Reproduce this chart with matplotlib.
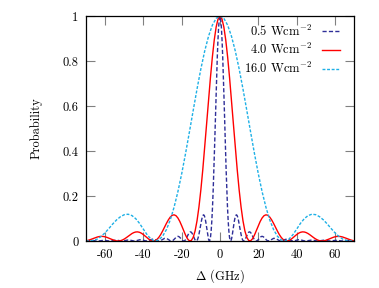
import numpy as np
import matplotlib
matplotlib.use("Agg")
import matplotlib.pyplot as plt

plt.rcParams.update({
    "font.family": "serif",
    "font.serif": ["cmr10", "DejaVu Serif"],
    "mathtext.fontset": "cm",
    "axes.unicode_minus": False,
    "font.size": 9,
})

# ---------------- data (half curves, detuning >= 0; the chart is symmetric) ----------------
# 0.5 W/cm^2
blue_x = [0.0, 0.356, 0.711, 1.067, 1.422, 1.778, 2.133, 2.489, 2.844, 3.2,
          3.556, 3.911, 4.267, 4.622, 4.978, 5.333, 5.689, 6.044, 6.4, 6.756,
          7.111, 7.467, 7.822, 8.178, 8.533, 8.889, 9.244, 9.6, 9.956, 10.311,
          10.667, 11.022, 11.378, 11.733, 12.089, 12.444, 12.8, 13.156, 13.511, 13.867,
          14.222, 14.578, 14.933, 15.289, 15.644, 16.0, 16.356, 16.711, 17.067, 17.422,
          17.778, 18.133, 18.489, 18.844, 19.2, 19.556, 19.911, 20.267, 20.622, 20.978,
          21.333, 21.689, 22.044, 22.4, 22.756, 23.111, 23.467, 23.822, 24.178, 24.533,
          24.889,
          26, 27, 28, 29, 30, 31, 32, 33, 34, 35, 36, 37, 38, 39, 40, 41, 42, 43, 44, 45,
          46, 47, 48, 49, 50, 51, 52, 53, 54, 55, 56, 57, 58, 59, 60, 61, 62, 63, 64, 65,
          66, 67, 68, 69, 70]
blue_p = [1.0, 0.9877, 0.9515, 0.8935, 0.8169, 0.7258, 0.6250, 0.5199, 0.4154, 0.3165,
          0.2274, 0.1511, 0.0900, 0.0450, 0.0161, 0.0021, 0.0009, 0.0100, 0.0263, 0.0465,
          0.0676, 0.0870, 0.1024, 0.1125, 0.1164, 0.1141, 0.1061, 0.0936, 0.0780, 0.0609,
          0.0439, 0.0284, 0.0157, 0.0066, 0.0014, 0.0000, 0.0022, 0.0070, 0.0137, 0.0211,
          0.0283, 0.0343, 0.0385, 0.0405, 0.0401, 0.0375, 0.0331, 0.0273, 0.0209, 0.0145,
          0.0088, 0.0043, 0.0013, 0.0001, 0.0005, 0.0023, 0.0053, 0.0088, 0.0126, 0.0159,
          0.0186, 0.0202, 0.0206, 0.0198, 0.0179, 0.0151, 0.0119, 0.0086, 0.0054, 0.0028,
          0.0010,
          0.0012, 0.0069, 0.0117, 0.0116, 0.0069, 0.0017, 0.0001, 0.0027, 0.0067, 0.0083,
          0.0063, 0.0025, 0.0001, 0.0008, 0.0036, 0.0057, 0.0054, 0.0030, 0.0006, 0.0001,
          0.0017, 0.0038, 0.0044, 0.0031, 0.0011, 0.0000, 0.0007, 0.0023, 0.0034, 0.0030,
          0.0015, 0.0002, 0.0002, 0.0013, 0.0025, 0.0027, 0.0017, 0.0005, 0.0000, 0.0006,
          0.0017, 0.0023, 0.0018, 0.0008, 0.0001]

# 4.0 W/cm^2
red_x = [0, 1, 2, 3, 4, 5, 6, 7, 8, 9, 10, 11, 12, 13, 14, 15, 16, 17, 18, 19,
         20, 21, 22, 23, 24, 25, 26, 27, 28, 29, 30, 31, 32, 33, 34, 35, 36, 37, 38, 39,
         40, 41, 42, 43, 44, 45, 46, 47, 48, 49, 50, 51, 52, 53, 54, 55, 56, 57, 58, 59,
         60, 61, 62, 63, 64, 65, 66, 67, 68, 69, 70]
red_p = [1.0, 0.9877, 0.9515, 0.8935, 0.8169, 0.7258, 0.6250, 0.5199, 0.4154, 0.3165,
         0.2274, 0.1511, 0.0900, 0.0450, 0.0161, 0.0021, 0.0009, 0.0100, 0.0263, 0.0465,
         0.0676, 0.0870, 0.1024, 0.1125, 0.1164, 0.1141, 0.1061, 0.0936, 0.0780, 0.0609,
         0.0439, 0.0284, 0.0157, 0.0066, 0.0014, 0.0000, 0.0022, 0.0070, 0.0137, 0.0211,
         0.0283, 0.0343, 0.0385, 0.0405, 0.0401, 0.0375, 0.0331, 0.0273, 0.0209, 0.0145,
         0.0088, 0.0043, 0.0013, 0.0001, 0.0005, 0.0023, 0.0053, 0.0088, 0.0126, 0.0159,
         0.0186, 0.0202, 0.0206, 0.0198, 0.0179, 0.0151, 0.0119, 0.0086, 0.0054, 0.0028,
         0.0010]

# 16.0 W/cm^2
cyan_x = [0, 2, 4, 6, 8, 10, 12, 14, 16, 18, 20, 22, 24, 26, 28, 30, 32, 34,
          36, 38, 40, 42, 44, 46, 48, 50, 52, 54, 56, 58, 60, 62, 64, 66, 68, 70]
cyan_p = [1.0, 0.9896, 0.9592, 0.9097, 0.8440, 0.7648, 0.6756, 0.5804, 0.4836, 0.3887,
          0.2994, 0.2190, 0.1499, 0.0933, 0.0504, 0.0212, 0.0048, 0.0000,
          0.008, 0.027, 0.052, 0.078, 0.099, 0.113, 0.119, 0.117, 0.108, 0.094, 0.076,
          0.056, 0.037, 0.021, 0.009, 0.003, 0.0005, 0.0003]

labels = ["0.5 Wcm$^{-2}$", "4.0 Wcm$^{-2}$", "16.0 Wcm$^{-2}$"]
xticks = [-60, -40, -20, 0, 20, 40, 60]
xtick_labels = ["-60", "-40", "-20", "0", "20", "40", "60"]
yticks = [0, 0.2, 0.4, 0.6, 0.8, 1.0]
ytick_labels = ["0", "0.2", "0.4", "0.6", "0.8", "1"]


def mirror(x, p):
    x = np.asarray(x, float)
    p = np.asarray(p, float)
    return np.concatenate([-x[::-1], x[1:]]), np.concatenate([p[::-1], p[1:]])


fig = plt.figure(figsize=(3.79, 2.88), dpi=100)
ax = fig.add_axes([86 / 379, 47 / 288, 268 / 379, 225 / 288])

bx, bp = mirror(blue_x, blue_p)
rx, rp = mirror(red_x, red_p)
cx, cp = mirror(cyan_x, cyan_p)

ax.plot(bx, bp, color="#2e2e98", lw=1.0, dashes=(3.0, 1.6), label=labels[0])
ax.plot(rx, rp, color="#ff0000", lw=1.0, label=labels[1])
ax.plot(cx, cp, color="#1eb0e6", lw=1.0, dashes=(2.1, 1.2), label=labels[2])

ax.set_xlim(-70, 70)
ax.set_ylim(0, 1)
ax.set_xticks(xticks)
ax.set_xticklabels(xtick_labels)
ax.set_yticks(yticks)
ax.set_yticklabels(ytick_labels)
ax.tick_params(direction="in", top=True, right=True, length=6.5, width=0.8,
               color="#808080", pad=5.5)
for s in ax.spines.values():
    s.set_linewidth(0.9)

ax.set_xlabel(r"$\Delta$ (GHz)", labelpad=5)
ax.set_ylabel("Probability", labelpad=14)

ax.legend(loc="upper right", bbox_to_anchor=(0.966, 0.989), frameon=False,
          markerfirst=False, handlelength=1.4, labelspacing=0.3, handletextpad=0.8,
          borderaxespad=0.0, borderpad=0.4, fontsize=9)

fig.savefig("out.png", dpi=100)
